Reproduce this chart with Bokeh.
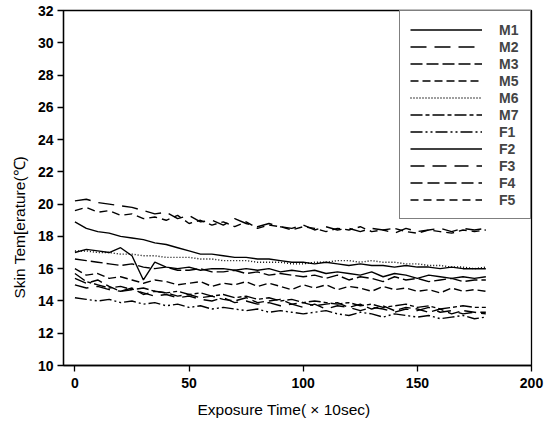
from bokeh.plotting import figure
from bokeh.models import Range1d, Legend, LegendItem, FixedTicker, Title
from bokeh.embed import file_html
from bokeh.resources import INLINE

# time axis (x 10 sec)
t = list(range(0, 181, 5))

M1 = [18.9, 18.5, 18.3, 18.2, 18.0, 17.9, 17.8, 17.6, 17.5, 17.3, 17.1, 16.9, 16.9, 16.8, 16.7, 16.7, 16.6, 16.6, 16.5,
      16.4, 16.4, 16.3, 16.4, 16.3, 16.2, 16.3, 16.2, 16.2, 16.1, 16.2, 16.1, 16.1, 16.0, 16.1, 16.0, 16.0, 16.0]
M2 = [20.2, 20.3, 20.1, 20.0, 19.9, 19.8, 19.6, 19.4, 19.5, 19.1, 19.3, 18.9, 19.0, 18.7, 19.1, 18.8, 18.6, 18.8, 18.6,
      18.5, 18.7, 18.4, 18.6, 18.4, 18.5, 18.3, 18.5, 18.4, 18.2, 18.5, 18.3, 18.4, 18.5, 18.3, 18.5, 18.4, 18.5]
M3 = [16.6, 16.5, 16.4, 16.3, 16.2, 16.3, 16.1, 16.0, 16.1, 15.9, 15.9, 16.0, 15.8, 15.8, 15.9, 15.7, 15.8, 15.6, 15.7,
      15.6, 15.5, 15.6, 15.4, 15.6, 15.3, 15.5, 15.4, 15.2, 15.5, 15.3, 15.4, 15.2, 15.3, 15.4, 15.2, 15.3, 15.3]
M5 = [16.0, 15.6, 15.7, 15.4, 15.5, 15.3, 15.1, 15.3, 15.2, 15.0, 15.1, 15.2, 14.9, 15.1, 15.0, 15.2, 14.9, 15.1, 14.9,
      14.7, 15.0, 14.8, 15.0, 14.7, 14.9, 14.8, 14.6, 14.9, 14.7, 14.8, 14.6, 14.7, 14.5, 14.8, 14.6, 14.7, 14.6]
M6 = [17.1, 17.1, 17.0, 17.0, 16.9, 16.9, 16.8, 16.8, 16.7, 16.7, 16.7, 16.6, 16.6, 16.5, 16.5, 16.5, 16.4, 16.4, 16.4,
      16.3, 16.3, 16.4, 16.4, 16.5, 16.5, 16.4, 16.5, 16.4, 16.4, 16.3, 16.3, 16.2, 16.2, 16.1, 16.1, 16.0, 16.1]
M7 = [15.7, 15.2, 15.0, 14.8, 14.9, 14.7, 14.8, 14.6, 14.5, 14.6, 14.4, 14.5, 14.3, 14.4, 14.2, 14.3, 14.1, 14.2, 14.0,
      14.1, 13.9, 14.0, 13.9, 13.8, 13.9, 13.7, 13.8, 13.6, 13.7, 13.8, 13.6, 13.7, 13.5, 13.6, 13.7, 13.6, 13.6]
F1 = [14.2, 14.1, 14.0, 14.1, 13.9, 14.0, 13.8, 13.9, 13.7, 13.8, 13.6, 13.7, 13.5, 13.6, 13.5, 13.4, 13.5, 13.3, 13.4,
      13.3, 13.2, 13.3, 13.4, 13.2, 13.1, 13.3, 13.2, 13.0, 13.2, 13.1, 13.0, 13.1, 12.9, 13.0, 13.1, 12.9, 13.0]
F2 = [17.0, 17.2, 17.1, 17.0, 17.3, 16.8, 15.3, 16.4, 16.1, 16.0, 16.1, 15.9, 16.0, 16.0, 15.9, 16.0, 15.9, 16.0, 15.8,
      15.9, 15.8, 15.9, 15.7, 15.8, 15.7, 15.6, 15.8, 15.5, 15.7, 15.6, 15.4, 15.6, 15.5, 15.4, 15.5, 15.4, 15.5]
F3 = [15.0, 14.8, 14.9, 14.7, 14.6, 14.7, 14.5, 14.3, 14.4, 14.2, 14.3, 14.1, 14.0, 14.2, 13.9, 14.0, 13.8, 13.9, 13.7,
      13.8, 13.6, 13.8, 13.5, 13.7, 13.6, 13.4, 13.6, 13.5, 13.3, 13.5, 13.4, 13.6, 13.3, 13.4, 13.2, 13.3, 13.3]
F4 = [15.4, 15.1, 15.3, 14.9, 14.6, 14.8, 14.4, 14.6, 14.5, 14.3, 14.4, 14.2, 14.3, 14.1, 14.0, 14.2, 13.9, 14.0, 14.1,
      13.8, 13.9, 13.7, 13.8, 13.9, 13.6, 13.8, 13.5, 13.7, 13.4, 13.6, 13.5, 13.3, 13.5, 13.2, 13.4, 13.3, 13.2]
F5 = [19.6, 19.8, 19.5, 19.6, 19.3, 19.4, 19.1, 19.2, 19.0, 19.3, 18.8, 19.0, 18.7, 18.9, 18.6, 18.9, 18.5, 18.7, 18.6,
      18.4, 18.6, 18.5, 18.3, 18.5, 18.4, 18.6, 18.3, 18.4, 18.5, 18.3, 18.2, 18.4, 18.3, 18.2, 18.4, 18.3, 18.4]

names = ["M1", "M2", "M3", "M5", "M6", "M7", "F1", "F2", "F3", "F4", "F5"]
series = [M1, M2, M3, M5, M6, M7, F1, F2, F3, F4, F5]
dashes = ["solid", "16 8", "12 4", "8 4", "1 2", "12 3 4 3", "12 3 2 3 2 3", "solid", "14 8", "12 5", "8 5"]

x_ticks = [0, 50, 100, 150, 200]
y_ticks = [10, 12, 14, 16, 18, 20, 22, 24, 26, 28, 30, 32]
x_label = "Exposure Time( \u00d7 10sec)"
y_label = "Skin Tem[erature(\u2103)"

FONT = "Liberation Sans"

p = figure(width=551, height=429, output_backend="svg", toolbar_location=None,
           x_range=Range1d(-5, 200), y_range=Range1d(10, 32),
           min_border_left=63, min_border_right=20, min_border_top=10, min_border_bottom=64)
p.grid.visible = False
p.outline_line_color = "black"
p.outline_line_width = 1.3
p.background_fill_color = "white"
p.border_fill_color = "white"

items = []
for name, ys, dash in zip(names, series, dashes):
    r = p.line(t, ys, line_color="black", line_width=1.4, line_dash=dash)
    items.append(LegendItem(label=name, renderers=[r]))

legend = Legend(items=items, location="top_right", margin=0, padding=10, spacing=0,
                glyph_width=72, glyph_height=17, label_height=17, label_width=21, label_standoff=17,
                border_line_color="black", border_line_width=1.3, background_fill_alpha=1.0,
                label_text_font=FONT, label_text_font_size="14px", label_text_font_style="bold")
p.add_layout(legend)

for ax in (p.xaxis[0], p.yaxis[0]):
    ax.axis_line_color = "black"
    ax.axis_line_width = 1.3
    ax.major_tick_line_color = "black"
    ax.major_tick_line_width = 1.3
    ax.major_tick_in = 0
    ax.major_tick_out = 6
    ax.minor_tick_line_color = None
    ax.major_label_text_font = FONT
    ax.major_label_text_font_size = "14px"
    ax.major_label_text_font_style = "bold"
    ax.major_label_text_color = "black"

p.xaxis.major_label_standoff = 6
p.yaxis.major_label_standoff = 4
p.xaxis.ticker = FixedTicker(ticks=x_ticks)
p.yaxis.ticker = FixedTicker(ticks=y_ticks)

xt = Title(text=x_label, align="left", offset=134, standoff=16,
           text_font=FONT, text_font_size="15.5px", text_font_style="normal", text_color="black")
p.add_layout(xt, "below")
yt = Title(text=y_label, align="left", offset=67, standoff=14,
           text_font=FONT, text_font_size="15.5px", text_font_style="normal", text_color="black")
p.add_layout(yt, "left")

open("out.html", "w").write(file_html(p, INLINE))
